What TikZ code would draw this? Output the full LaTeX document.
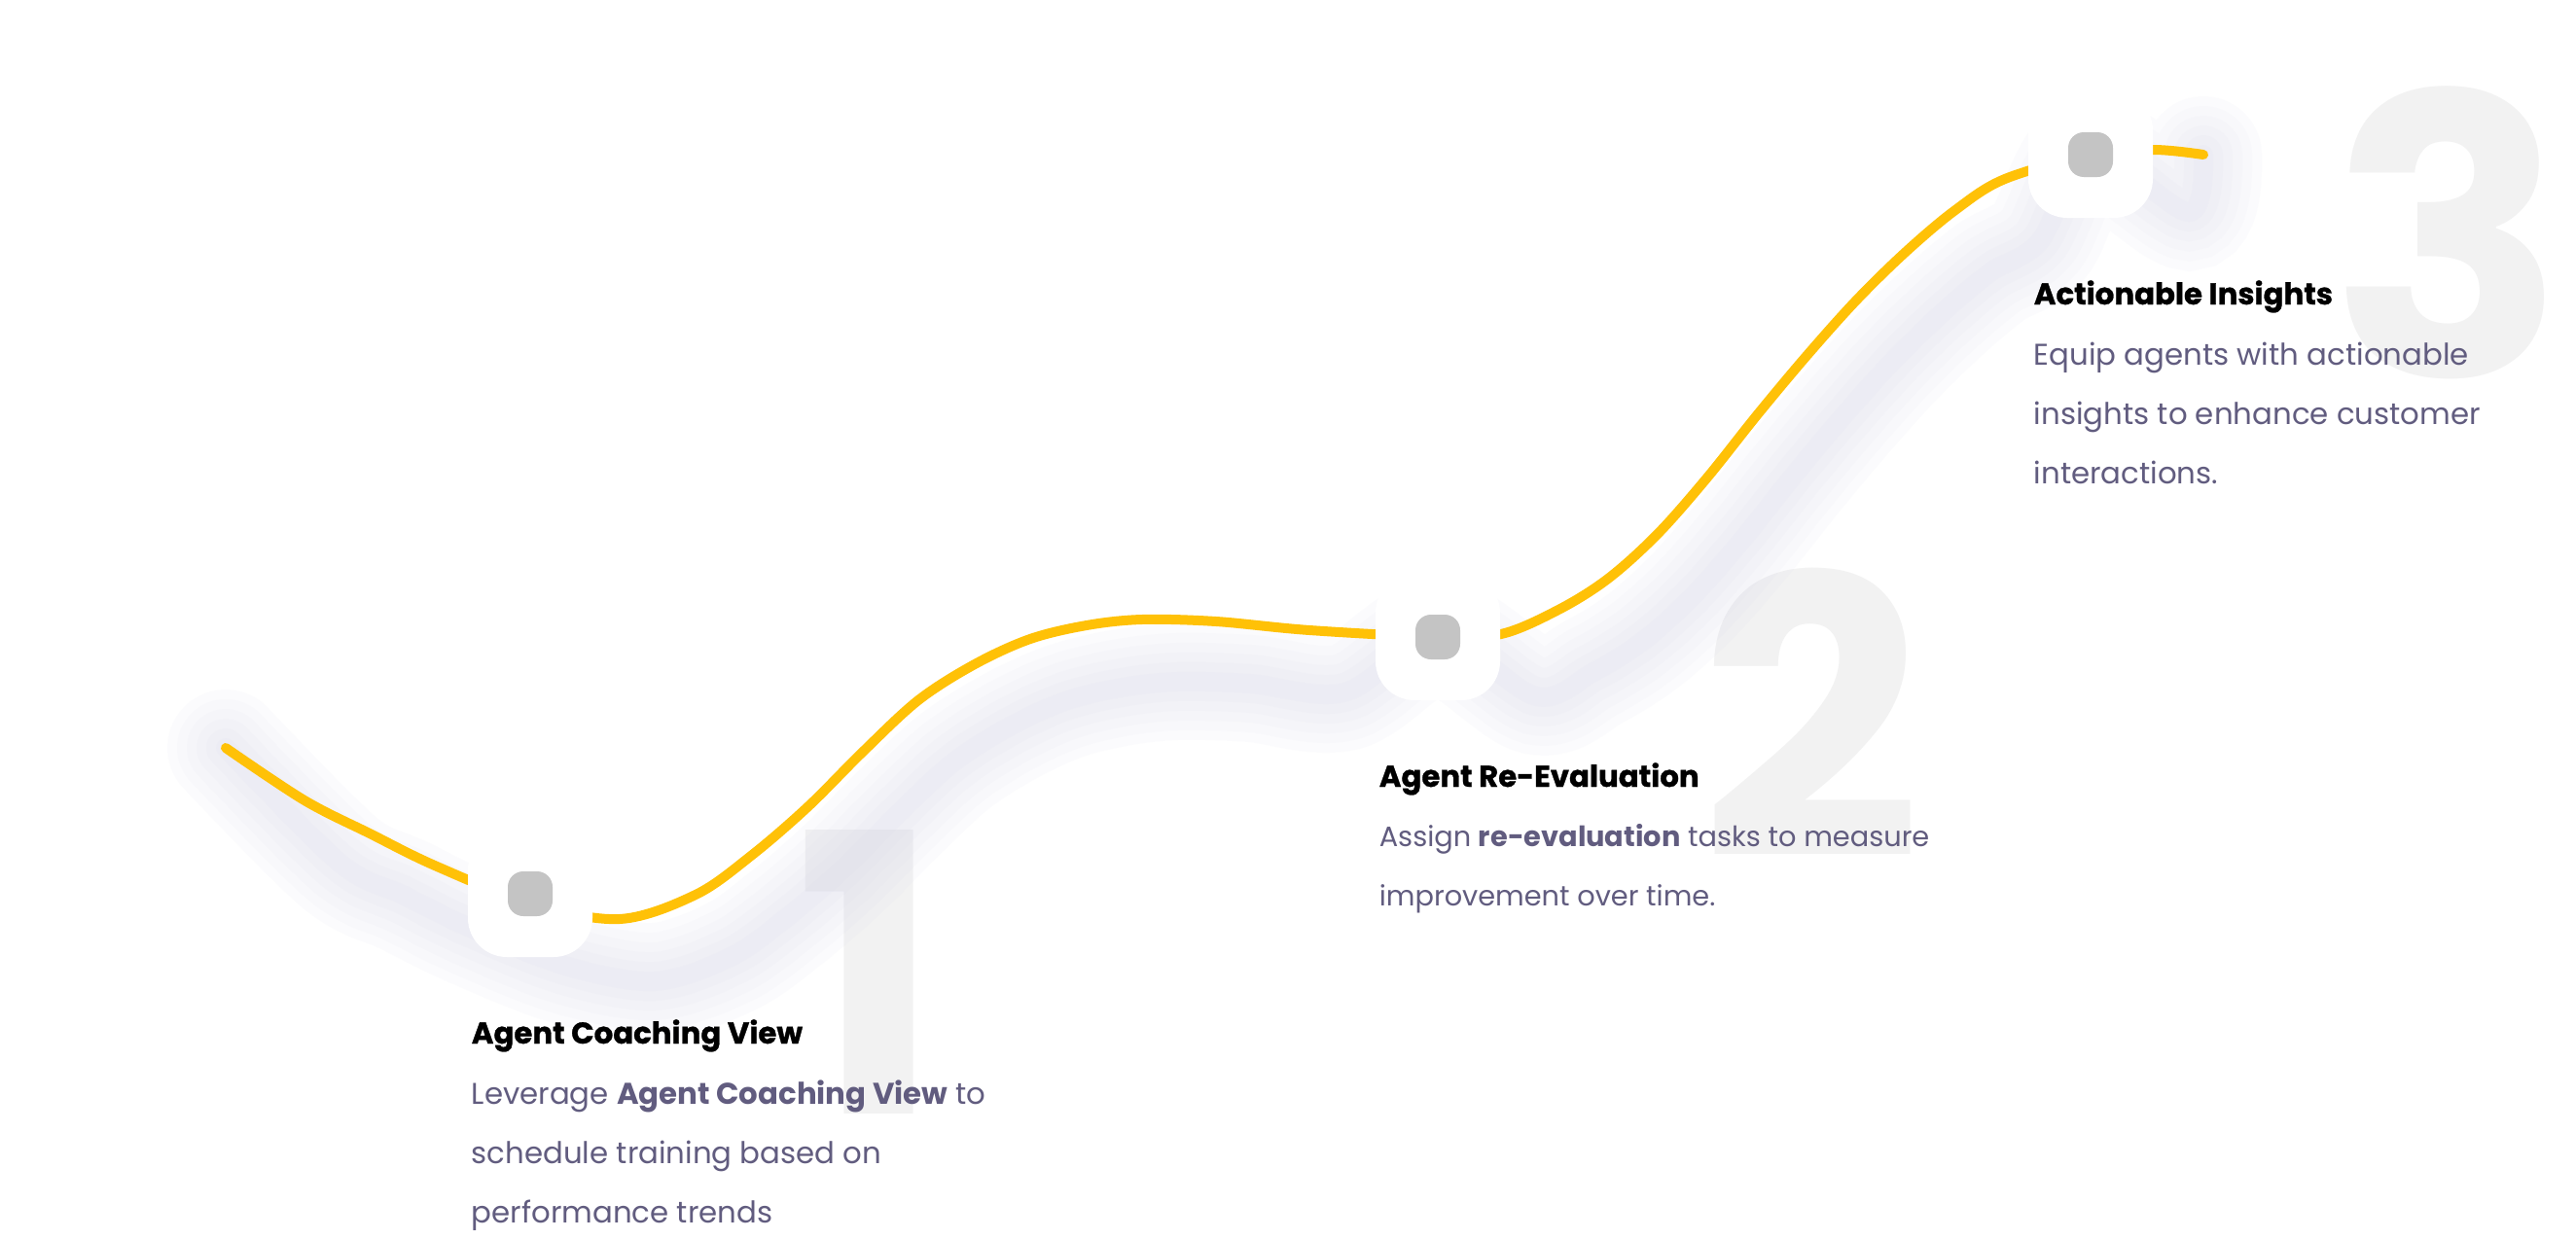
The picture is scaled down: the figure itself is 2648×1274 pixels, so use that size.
\documentclass[tikz,border=0pt]{standalone}
\usepackage{fontspec}
\setmainfont{Poppins}
\newfontfamily\heavyfont{Poppins}[BoldFeatures={FakeBold=0.9}]

\definecolor{amber}{HTML}{FFC107}
\definecolor{dotgray}{HTML}{C4C4C4}
\definecolor{numgray}{HTML}{F2F2F2}
\definecolor{bodytext}{HTML}{615C7F}
\definecolor{glowblue}{HTML}{C8C8E4}

\tikzset{
  curve/.style={draw=amber, line width=2.5pt, line cap=round},
  glow/.style={draw=glowblue, line cap=round, opacity=0.055},
  stepbox/.style={fill=white, rounded corners=10pt, minimum width=32pt, minimum height=32.5pt, inner sep=0pt},
  stepdot/.style={fill=dotgray, rounded corners=4pt, minimum size=11.5pt, inner sep=0pt},
  bignum/.style={text=numgray, font=\fontsize{100}{100}\selectfont\bfseries, inner sep=0pt, anchor=base},
  steptitle/.style={font=\fontsize{7.7}{9}\selectfont\heavyfont\bfseries, inner sep=0pt, anchor=base west},
  stepbody/.style={text=bodytext, font=\fontsize{7.7}{15.25}\selectfont, align=left, inner sep=0pt, anchor=base west},
}

\newcommand\trendpath{plot[smooth, tension=0.55] coordinates {(start) (313,823) (380,857) (447,890) (545,929) (637,945) (715,920) (772,880) (830,830) (887,773) (944,720) (1002,683) (1059,657) (1117,643) (1174,637) (1250,639) (1346,648) (d2) (1543,652) (1602,627) (1653,595) (1704,549) (1755,491) (1806,427) (1857,366) (1908,309) (1959,259) (2010,216) (2061,184) (d3) (2214,154) (end)}}

\begin{document}
\begin{tikzpicture}[x=0.25pt, y=-0.25pt]
  \useasboundingbox[fill=white] (0,0) rectangle (2648,1274);

  \coordinate (start) at (232,769);
  \coordinate (end) at (2265,159);
  \coordinate (d1) at (545,919);
  \coordinate (d2) at (1478,655);
  \coordinate (d3) at (2149,159);

  % big step numbers in the back
  \node[bignum] (num1) at (893,1145) {1};
  \node[bignum] (num2) at (1862,882) {2};
  \node[bignum] (num3) at (2516,387) {3};

  % soft shadow under the line
  \foreach \w in {30,25,20,15,10,5}
    \draw[glow, line width=\w pt, xshift=9pt, yshift=-16pt] \trendpath;

  \draw[curve] \trendpath;

  % markers
  \foreach \i in {1,2,3} {
    \node[stepbox] (box\i) at (d\i) {};
    \node[stepdot] (dot\i) at (box\i) {};
  }

  % texts (body nodes sit on their last line)
  \node[steptitle] (title1) at (484,1073) {Agent Coaching View};
  \node[stepbody] (text1) at (484,1257) {Leverage \textbf{Agent Coaching View} to\\schedule training based on\\performance trends};

  \node[steptitle] (title2) at (1417,809) {Agent Re-Evaluation};
  \node[stepbody, font=\fontsize{7.2}{15.25}\selectfont] (text2) at (1417,931) {Assign \textbf{re-evaluation} tasks to measure\\improvement over time.};

  \node[steptitle] (title3) at (2090,313) {Actionable Insights};
  \node[stepbody] (text3) at (2090,497) {Equip agents with actionable\\insights to enhance customer\\interactions.};
\end{tikzpicture}
\end{document}
